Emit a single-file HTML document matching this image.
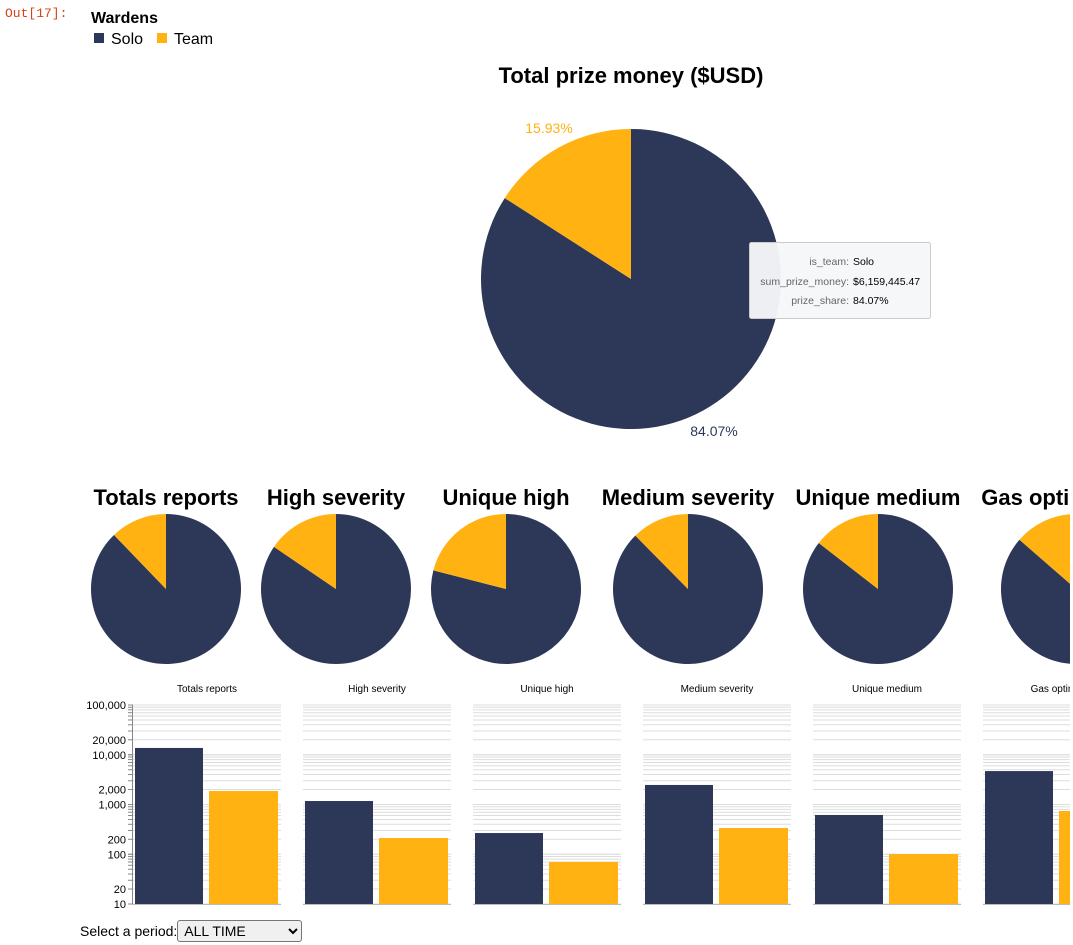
<!DOCTYPE html>
<html><head><meta charset="utf-8"><style>
body{margin:0;background:#fff;width:1073px;height:945px;overflow:hidden;font-family:"Liberation Sans",sans-serif;}
#out{position:absolute;left:5px;top:6px;font-family:"Liberation Mono",monospace;font-size:13px;color:#d84315;}
svg{position:absolute;left:0;top:0;}
#sel{position:absolute;left:80px;top:920px;font-size:14px;color:#000;}
#sel select{font-family:"Liberation Sans",sans-serif;font-size:14px;width:125px;height:22px;border:1px solid #767676;border-radius:3px;background:#f0f0f0;padding:0 2px;}
</style></head><body>
<div id="out">Out[17]:</div>
<svg id="c" width="1070" height="945"></svg>
<div id="sel">Select a period:<select><option>ALL TIME</option></select></div>
<script>
const NS="http://www.w3.org/2000/svg";
const svg=document.getElementById('c');
const SOLO="#2d3859",TEAM="#ffb212";
const categories=["Totals reports","High severity","Unique high","Medium severity","Unique medium","Gas optimizations"];
const shortTitles=["Totals reports","High severity","Unique high","Medium severity","Unique medium","Gas optimiz"];
const soloCounts=[13700,1175,267,2470,616,4700];
const teamCounts=[1870,212,70,337,101,740];
const teamShare=[0.122,0.155,0.21,0.124,0.145,0.136];
const prizeTeamShare=0.1593;
const prizeLabels=["84.07%","15.93%"];
const yTicks=[10,20,100,200,1000,2000,10000,20000,100000];
const yTickLabels=["10","20","100","200","1,000","2,000","10,000","20,000","100,000"];
function el(tag,a,p){const e=document.createElementNS(NS,tag);for(const k in a)e.setAttribute(k,a[k]);(p||svg).appendChild(e);return e;}
function txt(s,a){const e=el('text',a);e.textContent=s;return e;}
let t=txt("Wardens",{x:91,y:23,'font-size':16,'font-weight':'bold'});

let r=el('rect',{x:94,y:33,width:10,height:10,fill:SOLO});
t=txt("Solo",{x:111,y:44,'font-size':16});
r=el('rect',{x:157,y:33,width:10,height:10,fill:TEAM});
t=txt("Team",{x:174,y:44,'font-size':16});
function pie(cx,cy,R,share,name){
  const a=share*2*Math.PI;
  const x=cx-R*Math.sin(a),y=cy-R*Math.cos(a);
  const big=share>0.5?1:0;
  let p=el('path',{d:`M${cx},${cy} L${cx},${cy-R} A${R},${R} 0 ${1-big} 1 ${x},${y} Z`,fill:SOLO});
  
  p=el('path',{d:`M${cx},${cy} L${x},${y} A${R},${R} 0 ${big} 1 ${cx},${cy-R} Z`,fill:TEAM});
  
}
t=txt("Total prize money ($USD)",{x:631,y:83,'font-size':22,'font-weight':'bold','text-anchor':'middle'});

pie(631,279,150,prizeTeamShare,'prize-pie');
t=txt(prizeLabels[1],{x:549,y:133,'font-size':14,fill:TEAM,'text-anchor':'middle'});
t=txt(prizeLabels[0],{x:714,y:436,'font-size':14,fill:SOLO,'text-anchor':'middle'});
const g=el('g',{});
el('rect',{x:749.5,y:242.5,width:181,height:76,rx:2,fill:'rgba(246,247,249,0.96)',stroke:'#ccc'},g);
[["is_team:","Solo",265],["sum_prize_money:","$6,159,445.47",285],["prize_share:","84.07%",304]].forEach(d=>{
  let a=el('text',{x:849,y:d[2],'font-size':10.5,fill:'#666','text-anchor':'end'},g);a.textContent=d[0];
  a=el('text',{x:853,y:d[2],'font-size':10.5,fill:'#000'},g);a.textContent=d[1];
});
const pieX=[166,336,506,688,878,1076];
categories.forEach((c,i)=>{
  let tt=txt(c,{x:pieX[i],y:505,'font-size':22,'font-weight':'bold','text-anchor':'middle'});
  
  pie(pieX[i],589,75,teamShare[i],'pie-'+i);
});
const yTop=705,yBot=904,perDec=(yBot-yTop)/4;
const yScale=v=>yBot-(Math.log10(v)-1)*perDec;
categories.forEach((c,i)=>{
  const x0=133+170*i,w=148;
  const gg=el('g',{});
  let tt=el('text',{x:x0+74,y:692,'font-size':10,'text-anchor':'middle'},gg);tt.textContent=shortTitles[i];
  for(let d=1;d<=4;d++)for(let m=1;m<=10;m++){const v=Math.pow(10,d)*m; if(v>100000)break;
    const y=yScale(v);el('line',{x1:x0,x2:x0+w,y1:y,y2:y,stroke:'#ddd','stroke-width':1},gg);}
  el('line',{x1:x0,x2:x0+w,y1:yBot+0.5,y2:yBot+0.5,stroke:'#bbb'},gg);
  let b=el('rect',{x:x0+2,y:yScale(soloCounts[i]),width:68,height:yBot-yScale(soloCounts[i]),fill:SOLO},gg);
  
  b=el('rect',{x:x0+76,y:yScale(teamCounts[i]),width:69,height:yBot-yScale(teamCounts[i]),fill:TEAM},gg);
  
  if(i===0){
    el('line',{x1:x0-0.5,x2:x0-0.5,y1:yTop,y2:yBot,stroke:'#888'},gg);
    for(let d=1;d<=4;d++)for(let m=1;m<=10;m++){const v=Math.pow(10,d)*m;if(v>100000)break;const y=yScale(v);
      el('line',{x1:x0-5,x2:x0,y1:y,y2:y,stroke:'#888'},gg);}
    yTicks.forEach((v,k)=>{const a=el('text',{x:x0-7,y:yScale(v)+4,'font-size':11,'text-anchor':'end'},gg);a.textContent=yTickLabels[k];});
  }
});
</script>
</body></html>
